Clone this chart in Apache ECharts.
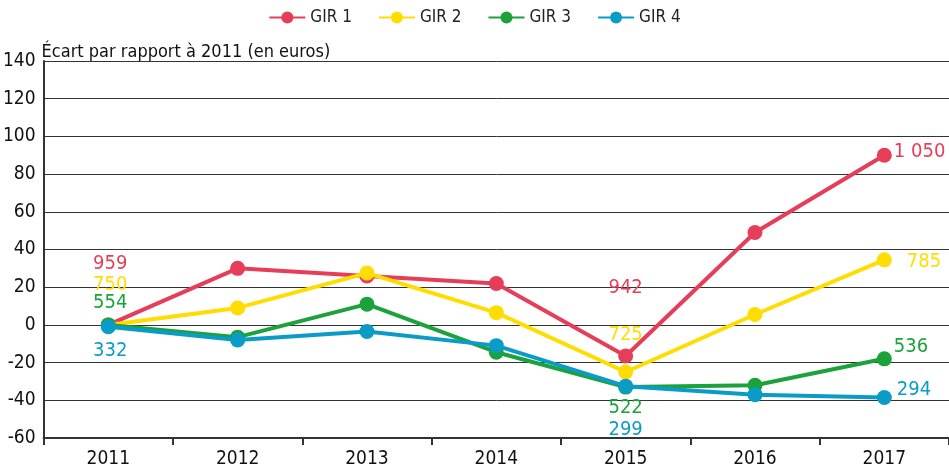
<!DOCTYPE html>
<html>
<head>
<meta charset="utf-8">
<script src="https://cdn.jsdelivr.net/npm/echarts@6/dist/echarts.min.js"></script>
<style>
  html, body { margin: 0; padding: 0; background: #fff; }
  #chart { width: 949px; height: 469px; }
</style>
</head>
<body>
<div id="chart"></div>
<script>
const years = ['2011', '2012', '2013', '2014', '2015', '2016', '2017'];
const gir1 = [0, 30, 26, 22, -16.5, 49, 90];
const gir2 = [0, 9, 27.5, 6.5, -25, 5.5, 34.5];
const gir3 = [0, -6.5, 11, -14.5, -33, -32, -18];
const gir4 = [-1, -8, -3.5, -11, -32.5, -37, -38.5];
// montants en euros affichés (2011, 2015, 2017)
const labels1 = ['959', null, null, null, '942', null, '1 050'];
const labels2 = ['750', null, null, null, '725', null, '785'];
const labels3 = ['554', null, null, null, '522', null, '536'];
const labels4 = ['332', null, null, null, '299', null, '294'];

const font = '"DejaVu Sans Condensed", "Liberation Sans Narrow", sans-serif';

// placement of the value labels, per series, per year index
const labelPos = [
    { 0: ['inside', [2, -61]], 4: ['inside', [0, -68]], 6: ['right', [0, -3], 2] },
    { 0: ['inside', [2, -40]], 4: ['inside', [0, -37]], 6: ['right', [0, 2], 15] },
    { 0: ['inside', [2, -22]], 4: ['inside', [0, 21]], 6: ['right', [0, -12], 2] },
    { 0: ['inside', [2, 24]], 4: ['inside', [0, 44]], 6: ['right', [0, -8], 5] }
];

function buildData(values, labels, pos, color) {
    return values.map((v, i) => {
        if (!labels[i]) return v;
        let p = pos[i];
        return {
            value: v,
            label: {
                show: true,
                formatter: labels[i],
                position: p[0],
                offset: p[1],
                distance: p[2] || 5,
                color: color,
                fontFamily: font,
                fontSize: 20
            }
        };
    });
}

const colors = ['#e63e58', '#ffdd00', '#1ba23a', '#0a9cc6'];
const names = ['GIR 1', 'GIR 2', 'GIR 3', 'GIR 4'];
const allValues = [gir1, gir2, gir3, gir4];
const allLabels = [labels1, labels2, labels3, labels4];

let chart = echarts.init(document.getElementById('chart'));
chart.setOption({
    animation: false,
    legend: {
        top: 4,
        left: 'center',
        itemWidth: 36,
        itemHeight: 15,
        itemGap: 26,
        textStyle: { fontFamily: font, fontSize: 17, color: '#222' },
        data: names
    },
    grid: { left: 43, right: 0, top: 61, bottom: 31 },
    xAxis: {
        type: 'category',
        data: years,
        boundaryGap: true,
        axisLine: { onZero: false, lineStyle: { color: '#333', width: 2 } },
        axisTick: { show: true, length: 7, lineStyle: { color: '#333', width: 2 } },
        axisLabel: { color: '#111', fontFamily: font, fontSize: 19, margin: 12 }
    },
    yAxis: {
        type: 'value',
        min: -60,
        max: 140,
        interval: 20,
        name: 'Écart par rapport à 2011 (en euros)',
        nameLocation: 'end',
        nameGap: 0,
        nameTextStyle: { color: '#111', fontFamily: font, fontSize: 18, align: 'left', padding: [0, 0, 0, -2] },
        axisLine: { show: true, lineStyle: { color: '#333', width: 2 } },
        axisTick: { show: false },
        axisLabel: { color: '#111', fontFamily: font, fontSize: 19, margin: 8 },
        splitLine: { lineStyle: { color: '#333', width: 1 } }
    },
    series: allValues.map((vals, k) => ({
        name: names[k],
        type: 'line',
        data: buildData(vals, allLabels[k], labelPos[k], colors[k]),
        symbol: 'circle',
        symbolSize: 15,
        lineStyle: { color: colors[k], width: 4 },
        itemStyle: { color: colors[k] },
        z: 2 + k
    }))
});
</script>
</body>
</html>
